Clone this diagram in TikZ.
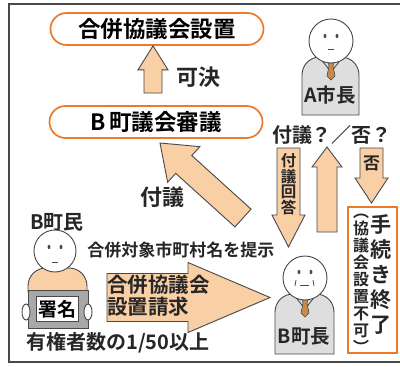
\documentclass[tikz,border=0pt]{standalone}
\usepackage{fontspec}
\setmainfont{Noto Sans CJK JP}[BoldFont={* Bold}]
\usetikzlibrary{calc}

\definecolor{peach}{HTML}{F9CFA6}
\definecolor{pillorange}{HTML}{EC7A2C}
\definecolor{suitgray}{HTML}{DEDEDE}
\definecolor{boardgray}{HTML}{A8A8A8}
\definecolor{inkgray}{HTML}{484848}
\definecolor{tiebrown}{HTML}{C98A4B}

\tikzset{
  pill/.style={draw=pillorange, line width=1.7pt, rounded corners=16pt,
    minimum width=213pt, minimum height=32pt, inner sep=0pt,
    font=\fontsize{22.5}{24}\selectfont\bfseries},
  fat/.style={fill=peach, draw=inkgray, line width=0.9pt, line join=miter},
  lbl/.style={inner sep=0pt, text=black!85, font=\fontsize{20}{22}\selectfont\bfseries},
  vtext/.style={inner sep=0pt, align=center, text=black!85},
  head/.style={circle, draw=inkgray, line width=0.9pt, fill=white,
    minimum size=44pt, inner sep=0pt},
  outline/.style={draw=inkgray, line width=0.9pt},
}

% block arrow: from, to, shaft half width, head half width, head length
\newcommand{\fatarrow}[5]{%
  \coordinate (hb) at ($(#2)!#5!(#1)$);
  \draw[fat] ($(#1)!#3!90:(#2)$) -- ($(hb)!#3!90:(#2)$)
    -- ($(hb)!#4!90:(#2)$) -- (#2) -- ($(hb)!#4!-90:(#2)$)
    -- ($(hb)!#3!-90:(#2)$) -- ($(#1)!#3!-90:(#2)$) -- cycle;
}

% suit with rounded shoulders: left, right, top, bottom, fill
\newcommand{\suit}[5]{%
  \draw[outline, fill=#5] (#1,#4) -- (#1,#3+18)
    .. controls (#1,#3+8) and (#1+8,#3) .. (#1+18,#3) -- (#2-18,#3)
    .. controls (#2-8,#3) and (#2,#3+8) .. (#2,#3+18) -- (#2,#4) -- cycle;
}

% collar and tie below a head at x
\newcommand{\tie}[2]{%
  \draw[outline] (#1-11,#2-4) -- (#1,#2+10) -- (#1+11,#2-4);
  \draw[outline, fill=tiebrown, line width=0.6pt] (#1-3,#2) -- (#1+3,#2)
    -- (#1+2,#2+4) -- (#1+4,#2+14) -- (#1,#2+18) -- (#1-4,#2+14)
    -- (#1-2,#2+4) -- cycle;
}

\begin{document}
\begin{tikzpicture}[x=1pt, y=-1pt]
\useasboundingbox (0,0) rectangle (400,367);
\clip (0,0) rectangle (400,367);
\fill[white] (0,0) rectangle (400,367);
\draw[inkgray, line width=1.4pt] (9,4) rectangle (410,362);

% council side
\node[pill] (gappei) at (157,29) {合併協議会設置};
\node[pill] (shingi) at (156,122) {B\,町議会審議};

\coordinate (kaketsuTail) at (153,93);
\coordinate (kaketsuTip) at (kaketsuTail |- gappei.south);
\fatarrow{kaketsuTail}{kaketsuTip}{9pt}{15pt}{24pt}
\node[lbl, font=\fontsize{22}{24}\selectfont\bfseries] (kaketsu) at (198,77) {可決};

% A city mayor
\suit{302}{359}{57}{115}{suitgray}
\tie{331}{62}
\node[head] (ahead) at (331,41) {};
\fill[inkgray] (325,36) ellipse (1.4 and 2.2) (337,36) ellipse (1.4 and 2.2);
\draw[inkgray, line width=0.9pt] (328,49) -- (334,49);
\node[lbl, font=\fontsize{19.5}{20}\selectfont\bfseries] (ashicho) at (330,95) {A市長};

\node[lbl] (toi) at (332,135) {付議？／否？};

% replies between the mayors
\coordinate (kaitoTop) at (288.5,148);
\coordinate (kaitoTip) at (288.5,247);
\fatarrow{kaitoTop}{kaitoTip}{11.5pt}{16.5pt}{32pt}
\node[vtext, font=\fontsize{15.5}{16.5}\selectfont\bfseries] (kaito) at (288.5,184)
  {付\\[-1pt]議\\[-1pt]回\\[-1pt]答};

\coordinate (soudanBot) at (327,232);
\coordinate (soudanTip) at (327,147);
\fatarrow{soudanBot}{soudanTip}{10pt}{15pt}{20pt}

\coordinate (hiTop) at (371.5,148);
\coordinate (hiTip) at (371.5,203);
\fatarrow{hiTop}{hiTip}{11.5pt}{16.5pt}{25pt}
\node[vtext, font=\fontsize{17}{18}\selectfont\bfseries] (hi) at (371.5,163) {否};

% procedure ends
\draw[draw=pillorange, line width=1.7pt] (348,207) rectangle (397,353);
\node[vtext, font=\fontsize{21}{24.5}\selectfont\bfseries, anchor=north] (shuryo)
  at (381,214) {手\\[0.5pt]続\\[0.5pt]き\\[0.5pt]終\\[0.5pt]了};
\node[vtext, font=\fontsize{16}{17}\selectfont\bfseries, anchor=north] (fuka)
  at (361,214) {︵\\協\\議\\会\\設\\置\\不\\可\\︶};

% B town mayor
\suit{275}{334}{294}{354}{suitgray}
\tie{305}{299}
\node[head] (bhead) at (305,278) {};
\fill[inkgray] (299,272) ellipse (1.4 and 2.2) (311,272) ellipse (1.4 and 2.2);
\draw[inkgray, line width=0.9pt] (300,285) -- (309,285);
\draw[inkgray, line width=0.8pt] (296,280) -- (295,286) (313,280) -- (314,286);
\node[lbl, font=\fontsize{19.5}{20}\selectfont\bfseries] (bchocho) at (304,336) {B町長};

% B town residents
\node[lbl] (bchomin) at (57,222) {B町民};
\suit{28}{87}{268}{292}{peach}
\node[head, minimum size=42pt] (chead) at (55,251) {};
\fill[inkgray] (49,247) ellipse (1.4 and 2.2) (61,247) ellipse (1.4 and 2.2);
\draw[inkgray, line width=0.9pt] (52,262) -- (58,262);
\draw[outline, fill=boardgray] (28,290) rectangle (88,328);
\draw[outline, fill=white] (26,312) ellipse (4 and 8) (88,312) ellipse (4 and 8);
\node[draw=inkgray, line width=0.9pt, fill=white, minimum width=42pt,
  minimum height=25pt, inner sep=0pt, font=\fontsize{19}{20}\selectfont\bfseries]
  (shomei) at (57,309) {署名};
\node[lbl] (yukensha) at (118,343) {有権者数の1/50以上};

% petition to the B town mayor
\node[lbl, font=\fontsize{17}{19}\selectfont\bfseries] (teiji) at (181,250)
  {合併対象市町村名を提示};
\coordinate (seikyuTail) at (107,297.5);
\coordinate (seikyuTip) at (270,297.5);
\fatarrow{seikyuTail}{seikyuTip}{24pt}{35pt}{82pt}
\node[lbl, align=left, anchor=west, font=\fontsize{20.5}{22}\selectfont\bfseries]
  (seikyu) at (107,296) {合併協議会\\設置請求};

% referral to the council
\coordinate (fugiTail) at (243,218);
\coordinate (fugiTip) at (160,143);
\fatarrow{fugiTail}{fugiTip}{12pt}{24pt}{32pt}
\node[lbl, font=\fontsize{22}{24}\selectfont\bfseries] (fugi) at (162,197) {付議};
\end{tikzpicture}
\end{document}
